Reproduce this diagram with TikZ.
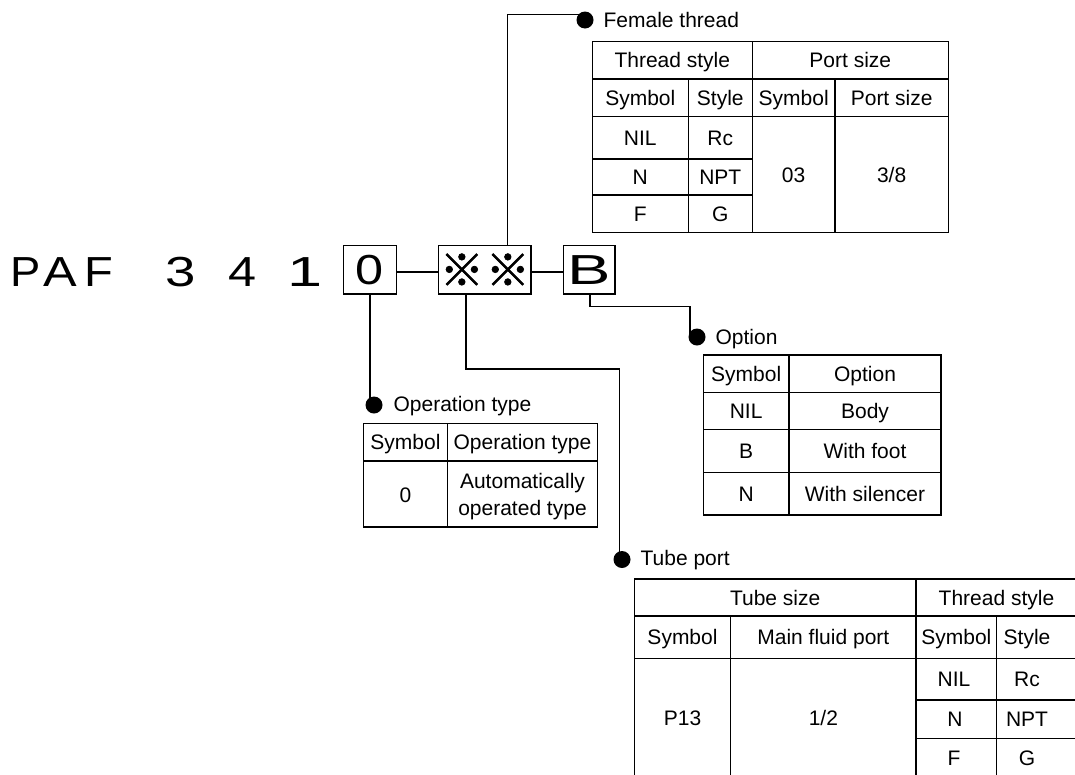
\documentclass[tikz,border=0pt]{standalone}
\usepackage{fontspec}
\setmainfont{Liberation Sans}
\newfontfamily\cjkb{Noto Sans CJK JP}[FakeBold=1.5]
\usepackage{graphicx}
\newcommand\wchar[2]{\makebox[0pt][c]{\scalebox{#1}[1]{#2}}}
\begin{document}
\begin{tikzpicture}[x=1pt,y=-1pt, line width=1.2pt,
  big/.style={font=\fontsize{42}{48}\selectfont, inner sep=0pt},
  codebox/.style={draw, line width=1.4pt, inner sep=0pt, minimum height=48.3pt},
  bullet/.style={circle, fill=black, draw=none, inner sep=0pt, minimum size=17pt},
  cell/.style={font=\fontsize{21}{25}\selectfont, inner sep=0pt, anchor=base},
  lbl/.style={font=\fontsize{21}{25}\selectfont, inner sep=0pt, anchor=base west},
  grid/.style={line width=1.2pt},
  conn/.style={line width=1.2pt}]
\useasboundingbox (0,0) rectangle (1075,774);
\clip (0,0) rectangle (1075,774);

% ---- main code row ----
\node[big, anchor=base west] (code) at (25,286)
  {\wchar{1.08}{P}\hspace{35pt}\wchar{1.2}{A}\hspace{38.5pt}\wchar{1.12}{F}\hspace{81.5pt}\wchar{1.3}{3}\hspace{62pt}\wchar{1.2}{4}\hspace{62pt}\wchar{1.5}{1}};
\node[codebox, minimum width=53.4pt, big] (b0) at (370,269.85) {\scalebox{1.2}[1]{0}};
\node[codebox, minimum width=92.3pt] (bx) at (484.85,269.85) {\cjkb\fontsize{44}{50}\selectfont ※\hspace{2pt}※};
\node[codebox, minimum width=51.7pt, big] (bB) at (589.15,269.85) {\scalebox{1.55}[1]{B}};

\coordinate (ymid) at (0,272);
\draw[conn] (b0.east |- ymid) -- (bx.west |- ymid);
\draw[conn] (bx.east |- ymid) -- (bB.west |- ymid);

% ---- bullets and labels ----
\node[bullet] (bFem) at (585,20) {};
\node[lbl] (lFem) at (603,27.3) {Female thread};
\node[bullet] (bOp) at (374,405) {};
\node[lbl] (lOp) at (393,411.7) {Operation type};
\node[bullet] (bOpt) at (697,337) {};
\node[lbl] (lOpt) at (715,344) {Option};
\node[bullet] (bTube) at (622,559.5) {};
\node[lbl] (lTube) at (640,565) {Tube port};

% ---- connectors ----
\coordinate (jF) at (507.7,14.7);
\draw[conn] (bx.north -| jF) -- (jF) -- (bFem.center |- jF);
\coordinate (jO) at (370,0);
\draw[conn] (b0.south -| jO) -- (jO |- bOp.center);
\coordinate (jT1) at (466,0);
\coordinate (jT2) at (619.3,369);
\draw[conn] (bx.south -| jT1) |- (jT2) -- (jT2 |- bTube.center);
\coordinate (jB1) at (590,0);
\coordinate (jB2) at (690,306.7);
\draw[conn] (bB.south -| jB1) |- (jB2) -- (jB2 |- bOpt.center);

% ---- Female thread table ----
\draw[grid] (592.3,41.7) rectangle (948.3,232.7);
\draw[grid] (592.3,79) -- (948.3,79);
\draw[grid] (592.3,116.7) -- (948.3,116.7);
\draw[grid] (592.3,159) -- (752.3,159);
\draw[grid] (592.3,195) -- (752.3,195);
\draw[grid] (688.3,79) -- (688.3,232.7);
\draw[grid] (752.3,41.7) -- (752.3,232.7);
\draw[grid] (835,79) -- (835,232.7);
\node[cell] (f11) at (672.3,67.8) {Thread style};
\node[cell] (f12) at (850.3,67.8) {Port size};
\node[cell] (f21) at (640.3,105.3) {Symbol};
\node[cell] (f22) at (720.3,105.3) {Style};
\node[cell] (f23) at (793.65,105.3) {Symbol};
\node[cell] (f24) at (891.65,105.3) {Port size};
\node[cell] (f31) at (640.3,145.3) {NIL};
\node[cell] (f32) at (720.3,145.3) {Rc};
\node[cell] (f41) at (640.3,184.5) {N};
\node[cell] (f42) at (720.3,184.5) {NPT};
\node[cell] (f51) at (640.3,221.3) {F};
\node[cell] (f52) at (720.3,221.3) {G};
\node[cell] (f33) at (793.65,182.2) {03};
\node[cell] (f34) at (891.65,182.2) {3/8};

% ---- Option table ----
\draw[grid] (703.3,355) rectangle (941,515);
\draw[grid] (703.3,392.3) -- (941,392.3);
\draw[grid] (703.3,429.7) -- (941,429.7);
\draw[grid] (703.3,472.3) -- (941,472.3);
\draw[grid] (789,355) -- (789,515);
\node[cell] (o11) at (746.15,381.1) {Symbol};
\node[cell] (o12) at (865,381.1) {Option};
\node[cell] (o21) at (746.15,418.5) {NIL};
\node[cell] (o22) at (865,418.5) {Body};
\node[cell] (o31) at (746.15,458.5) {B};
\node[cell] (o32) at (865,458.5) {With foot};
\node[cell] (o41) at (746.15,501.1) {N};
\node[cell] (o42) at (865,501.1) {With silencer};

% ---- Operation type table ----
\draw[grid] (363.6,423.3) rectangle (597.7,527);
\draw[grid] (363.6,461) -- (597.7,461);
\draw[grid] (447.3,423.3) -- (447.3,527);
\node[cell] (p11) at (405.45,449.6) {Symbol};
\node[cell] (p12) at (522.5,449.6) {Operation type};
\node[cell] (p21) at (405.45,502.5) {0};
\node[font=\fontsize{21}{27}\selectfont, inner sep=0pt, align=center] (p22) at (522.5,496.3) {Automatically\\operated type};

% ---- Tube port table ----
\draw[grid] (634.3,579) rectangle (1077,777);
\draw[grid] (634.3,616) -- (1077,616);
\draw[grid] (634.3,658.3) -- (1077,658.3);
\draw[grid] (916,700) -- (1077,700);
\draw[grid] (916,738.3) -- (1077,738.3);
\draw[grid] (730.7,616) -- (730.7,777);
\draw[grid] (916,579) -- (916,777);
\draw[grid] (996.7,616) -- (996.7,777);
\node[cell] (t11) at (775.2,605) {Tube size};
\node[cell] (t12) at (996.5,605) {Thread style};
\node[cell] (t21) at (682.5,644.7) {Symbol};
\node[cell] (t22) at (823.35,644.7) {Main fluid port};
\node[cell] (t23) at (956.35,644.7) {Symbol};
\node[cell] (t24) at (1027,644.7) {Style};
\node[cell] (t31) at (954,686.7) {NIL};
\node[cell] (t32) at (1027,686.7) {Rc};
\node[cell] (t41) at (955,726.7) {N};
\node[cell] (t42) at (1027,726.7) {NPT};
\node[cell] (t51) at (954,765.2) {F};
\node[cell] (t52) at (1027,765.2) {G};
\node[cell] (t61) at (682.5,725.2) {P13};
\node[cell] (t62) at (823.35,725.2) {1/2};
\end{tikzpicture}
\end{document}
